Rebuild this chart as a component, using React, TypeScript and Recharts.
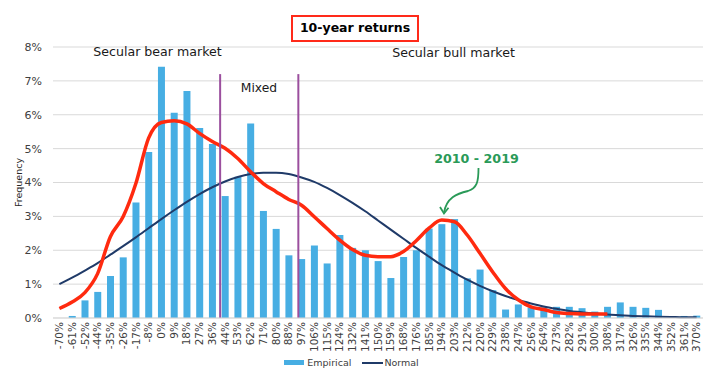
import {
  ComposedChart,
  Bar,
  Line,
  XAxis,
  YAxis,
  CartesianGrid,
  Legend,
  ReferenceLine,
} from "recharts";

// return buckets (%), one per bar
const buckets = [
  -70, -61, -52, -44, -35, -26, -17, -8, 0, 9, 18, 27, 36, 44, 53, 62, 71, 80,
  88, 97, 106, 115, 124, 132, 141, 150, 159, 168, 176, 185, 194, 203, 212, 220,
  229, 238, 247, 256, 264, 273, 282, 291, 300, 308, 317, 326, 335, 344, 352,
  361, 370,
];

const empirical = [
  0, 0.06, 0.52, 0.77, 1.24, 1.79, 3.41, 4.9, 7.42, 6.06, 6.7, 5.61, 5.14, 3.6,
  4.17, 5.74, 3.16, 2.63, 1.85, 1.74, 2.14, 1.61, 2.45, 2.07, 2.0, 1.68, 1.18,
  1.8, 2.0, 2.64, 2.77, 2.92, 1.17, 1.43, 0.82, 0.25, 0.4, 0.31, 0.32, 0.33,
  0.33, 0.29, 0.19, 0.33, 0.46, 0.33, 0.3, 0.24, 0, 0.06, 0.07,
];

const normal = [
  1.0, 1.19, 1.4, 1.62, 1.87, 2.12, 2.38, 2.65, 2.92, 3.18, 3.43, 3.66, 3.86,
  4.03, 4.16, 4.25, 4.29, 4.29, 4.25, 4.15, 4.02, 3.84, 3.63, 3.4, 3.15, 2.88,
  2.61, 2.34, 2.07, 1.81, 1.56, 1.34, 1.13, 0.95, 0.79, 0.65, 0.53, 0.43, 0.34,
  0.27, 0.21, 0.17, 0.13, 0.1, 0.08, 0.06, 0.05, 0.04, 0.03, 0.02, 0.02,
];

// hand-drawn red fit, stops at 308%
const fit = [
  0.28, 0.47, 0.75, 1.31, 2.4, 2.99, 3.97, 5.31, 5.77, 5.82, 5.73, 5.45, 5.21,
  5.01, 4.71, 4.32, 3.97, 3.73, 3.5, 3.33, 2.99, 2.64, 2.3, 2.02, 1.85, 1.81,
  1.81, 1.96, 2.28, 2.65, 2.89, 2.84, 2.45, 1.91, 1.36, 0.87, 0.54, 0.33, 0.25,
  0.16, 0.13, 0.12, 0.12, 0.12,
];

const yTicks = [0, 1, 2, 3, 4, 5, 6, 7, 8];

// regime boundaries in return %
const regimeBounds = [41, 95];

const data = buckets.map((b, i) => ({
  ret: b,
  label: `${b}%`,
  empirical: empirical[i],
  normal: normal[i],
  fit: i < fit.length ? fit[i] : null,
}));

const XTick = (props: any) => {
  const { x, y, payload } = props;
  return (
    <text
      x={x}
      y={y}
      transform={`rotate(-90 ${x} ${y})`}
      textAnchor="end"
      dy="0.35em"
      fontSize={10.5}
      fill="#404040"
    >
      {payload.value}
    </text>
  );
};

const renderLegend = () => (
  <div
    style={{
      display: "flex",
      justifyContent: "center",
      alignItems: "center",
      fontSize: 9.5,
      color: "#404040",
    }}
  >
    <span
      style={{
        display: "inline-block",
        width: 20,
        height: 5,
        background: "#47AEE3",
        marginRight: 3,
      }}
    />
    <span style={{ marginRight: 11 }}>Empirical</span>
    <span
      style={{
        display: "inline-block",
        width: 21,
        height: 2,
        background: "#1F3A68",
        marginRight: 1,
      }}
    />
    <span>Normal</span>
  </div>
);

export default function App() {
  return (
    <div
      style={{
        position: "absolute",
        left: 0,
        top: 0,
        width: 720,
        height: 392,
        background: "#fff",
        fontFamily: "'DejaVu Sans', Verdana, sans-serif",
      }}
    >
      <ComposedChart
        width={720}
        height={392}
        data={data}
        margin={{ top: 47, right: 17, left: 0, bottom: 15 }}
        barCategoryGap={0}
      >
        <CartesianGrid vertical={false} stroke="#D9D9D9" />
        <XAxis
          dataKey="label"
          interval={0}
          height={39}
          tick={<XTick />}
          tickLine={false}
          tickSize={0}
          tickMargin={4}
          axisLine={{ stroke: "#D9D9D9" }}
        />
        <XAxis
          xAxisId="ret"
          dataKey="ret"
          type="number"
          domain={[-74.4, 374.4]}
          allowDataOverflow
          hide
        />
        <YAxis
          width={53}
          domain={[0, 8]}
          ticks={yTicks}
          tickFormatter={(v) => `${v}%`}
          axisLine={false}
          tickLine={false}
          tick={{ fontSize: 11, fill: "#404040" }}
          tickMargin={5}
          label={{
            value: "Frequency",
            angle: -90,
            position: "insideLeft",
            offset: 19,
            style: { fontSize: 9.5, fill: "#262626", textAnchor: "middle" },
          }}
        />
        <Bar
          dataKey="empirical"
          name="Empirical"
          fill="#47AEE3"
          barSize={7}
          isAnimationActive={false}
        />
        <Line
          dataKey="normal"
          name="Normal"
          type="monotone"
          stroke="#1F3A68"
          strokeWidth={2}
          dot={false}
          activeDot={false}
          isAnimationActive={false}
        />
        <Line
          dataKey="fit"
          name="fit"
          type="monotone"
          stroke="#FF2A0F"
          strokeWidth={3.5}
          dot={false}
          activeDot={false}
          legendType="none"
          connectNulls={false}
          isAnimationActive={false}
        />
        {regimeBounds.map((r) => (
          <ReferenceLine
            key={r}
            xAxisId="ret"
            segment={[
              { x: r, y: 0 },
              { x: r, y: 7.2 },
            ]}
            stroke="#9B4F9E"
            strokeWidth={2}
          />
        ))}
        <Legend verticalAlign="bottom" height={20} content={renderLegend} />
      </ComposedChart>

      <div
        style={{
          position: "absolute",
          left: 291,
          top: 15,
          width: 128,
          height: 27,
          boxSizing: "border-box",
          border: "2.7px solid #FF2A1A",
          fontWeight: "bold",
          fontSize: 12.5,
          lineHeight: "21px",
          textAlign: "center",
          color: "#000",
        }}
      >
        10-year returns
      </div>

      <svg
        width={720}
        height={392}
        style={{ position: "absolute", left: 0, top: 0, pointerEvents: "none" }}
      >
        <text x={157.5} y={56} textAnchor="middle" fontSize={12.6} fill="#1a1a1a">
          Secular bear market
        </text>
        <text x={453.5} y={56.5} textAnchor="middle" fontSize={12.6} fill="#1a1a1a">
          Secular bull market
        </text>
        <text x={259} y={92} textAnchor="middle" fontSize={12.3} fill="#1a1a1a">
          Mixed
        </text>
        <text
          x={476.5}
          y={163}
          textAnchor="middle"
          fontSize={12.7}
          fontWeight="bold"
          fill="#2A9A58"
        >
          2010 - 2019
        </text>
        <path
          d="M478.5,168 C478.5,182 477,188 468,191 C457,193.5 446,198 444,213"
          fill="none"
          stroke="#2A9A58"
          strokeWidth={1.8}
        />
        <path
          d="M440,207 L444,213.5 L448.5,207.8"
          fill="none"
          stroke="#2A9A58"
          strokeWidth={1.8}
        />
      </svg>
    </div>
  );
}
